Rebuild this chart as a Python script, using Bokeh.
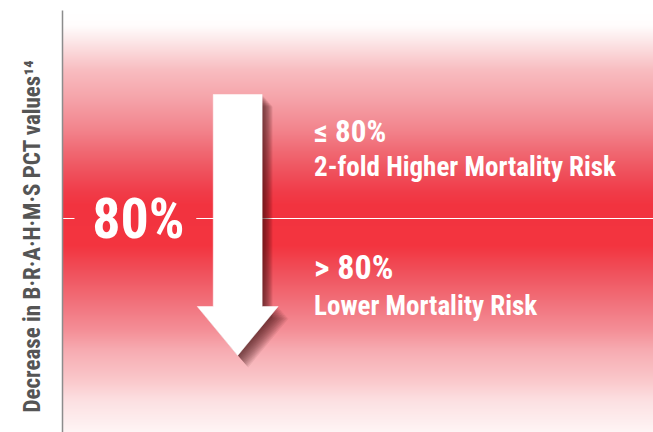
import numpy as np
from bokeh.plotting import figure
from bokeh.models import Range1d, Label, FixedTicker, Title
from bokeh.embed import file_html
from bokeh.resources import INLINE

# ---- content ----
threshold = 80
big_label = "80%"
group_labels = ["\u2264 80%", "> 80%"]
outcome_labels = ["2-fold Higher Mortality Risk", "Lower Mortality Risk"]
y_title = "Decrease in B\u00b7R\u00b7A\u00b7H\u00b7M\u00b7S PCT values\u00b9\u2074"

# ---- layout / style ----
W, H = 653, 432
LEFT, TOP = 61, 10
PX_PER_PCT = 10.4
Y_TOP = 60.0
Y_BOTTOM = Y_TOP + (H - TOP) / PX_PER_PCT
FONT = "Liberation Sans Narrow, Roboto Condensed, Roboto, sans-serif"


def yp(py):
    """pixel row -> axis value"""
    return Y_TOP + (py - TOP) / PX_PER_PCT


p = figure(width=W, height=H, x_range=Range1d(0, W - LEFT),
           y_range=Range1d(Y_BOTTOM, Y_TOP),
           output_backend="svg", toolbar_location=None,
           min_border_left=LEFT, min_border_top=TOP,
           min_border_bottom=0, min_border_right=0,
           x_axis_location=None)
p.outline_line_color = None
p.grid.visible = False
p.background_fill_color = "white"
p.border_fill_color = "white"

ax = p.yaxis[0]
ax.ticker = FixedTicker(ticks=[])
ax.axis_line_color = "#8c8c8c"
ax.axis_line_width = 1.5
ax.major_tick_line_color = None
ax.minor_tick_line_color = None
ax.major_tick_out = 0
ax.major_tick_in = 0
ax.major_label_standoff = 0
ax.major_label_text_font_size = "0px"

p.add_layout(Title(text=y_title, align="left", offset=20, standoff=33,
                   text_font=FONT, text_font_style="bold",
                   text_font_size="23px", text_color="#555555"), "left")

# ---- gradient background (styling stops) ----
stop_py = np.array([10, 25, 40, 70, 100, 130, 150, 170, 190, 205, 245,
                    270, 300, 330, 350, 380, 400, 432])
stop_hex = ["#FFFFFF", "#FFFDFD", "#FCE8E9", "#F8BCC0", "#F5A2A8", "#F2838C",
            "#F06A74", "#EF535E", "#F03D4A", "#F2333F", "#F3343F", "#F04F5A",
            "#F16F79", "#F48F97", "#F7ACB2", "#FAC8CB", "#FCE0E2", "#FEF5F5"]
stop_rgb = np.array([[int(h[i:i + 2], 16) for i in (1, 3, 5)] for h in stop_hex])
rows = np.arange(TOP, H) + 0.5
img = np.zeros((len(rows), 1), dtype=np.uint32)
view = img.view(dtype=np.uint8).reshape((len(rows), 1, 4))
for k in range(3):
    view[:, 0, k] = np.round(np.interp(rows, stop_py, stop_rgb[:, k])).astype(np.uint8)
view[:, 0, 3] = 255
p.image_rgba(image=[img], x=0, y=Y_TOP, dw=W - LEFT, dh=Y_BOTTOM - Y_TOP)

# ---- threshold line ----
p.segment(x0=[0, 134], x1=[12, W - LEFT], y0=[threshold, threshold],
          y1=[threshold, threshold], line_color="white", line_width=1.2)

# ---- arrow with shadow ----
ax_l, ax_r, hd_l, hd_r, tip_x = 151, 200, 135, 216, 175.5
y_top, y_base, y_tip = yp(94), yp(306), yp(355)
arrow_x = [ax_l, ax_r, ax_r, hd_r, tip_x, hd_l, ax_l]
arrow_y = [y_top, y_top, y_base, y_base, y_tip, y_base, y_base]
for k in range(1, 15):
    dx = k * 0.75
    dy = k * 0.85 / PX_PER_PCT
    p.patch([x + dx for x in arrow_x], [y + dy for y in arrow_y],
            fill_color="#3b0a10", fill_alpha=0.07, line_color=None)
p.patch(arrow_x, arrow_y, fill_color="white", line_color="white", line_width=0.5)

# ---- texts (text_baseline "middle" ~ cap centre) ----
def label(x, py, text, size, align="left"):
    p.add_layout(Label(x=x, y=yp(py), text=text, text_align=align,
                       text_baseline="middle", text_color="white",
                       text_font=FONT, text_font_style="bold",
                       text_font_size=size))


label(76, 218.5, big_label, "56px", align="center")
label(252, 130.5, group_labels[0], "31px")
label(252, 166.5, outcome_labels[0], "27px")
label(252, 266.5, group_labels[1], "34px")
label(252, 305, outcome_labels[1], "27px")

open("out.html", "w").write(file_html(p, INLINE))
